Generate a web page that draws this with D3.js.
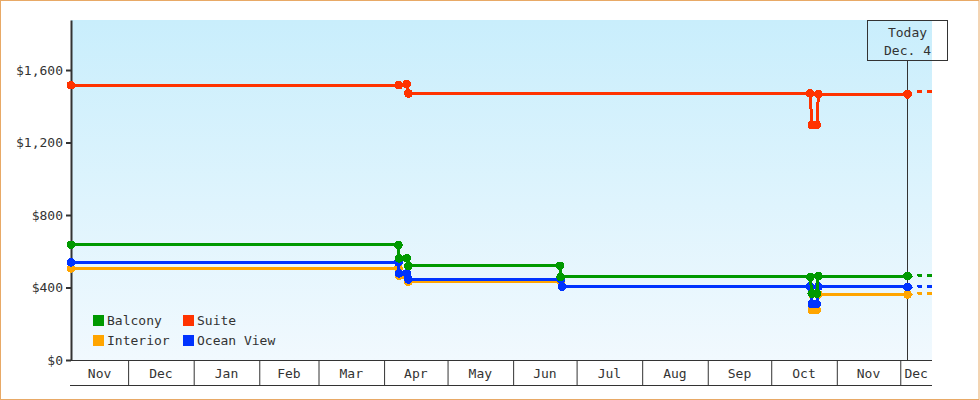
<!DOCTYPE html>
<html>
<head>
<meta charset="utf-8">
<script src="https://cdn.jsdelivr.net/npm/d3@7"></script>
<style>
  html, body { margin: 0; padding: 0; background: #ffffff; }
  svg { display: block; }
  text { font-family: "DejaVu Sans Mono", monospace; font-size: 13px; fill: #333; }
</style>
</head>
<body>
<svg id="chart" width="980" height="400"></svg>
<script>
// ---------- DATA ----------
const seriesNames  = ["Balcony", "Suite", "Interior", "Ocean View"];
const seriesColors = ["#009900", "#ff3300", "#ffa500", "#0033ff"];
const drawOrder    = ["Interior", "Ocean View", "Balcony", "Suite"];

const domainStart = "2022-11-04T00:00";
const domainEnd   = "2023-12-16T00:00";
const todayDate   = "2023-12-04T10:00";
const todayLabel  = ["Today", "Dec. 4"];

const yTickValues = [0, 400, 800, 1200, 1600];
const yMax = 1876;

const balcony = [
  ["2022-11-04T00:00", 635], ["2023-04-07T18:00", 635], ["2023-04-08T02:00", 561],
  ["2023-04-11T17:00", 561], ["2023-04-12T12:00", 519], ["2023-06-23T04:00", 519],
  ["2023-06-23T12:00", 458], ["2023-10-19T10:00", 458], ["2023-10-20T05:00", 367],
  ["2023-10-22T14:00", 367], ["2023-10-23T07:00", 463], ["2023-12-04T10:00", 463]
];
const suite = [
  ["2022-11-04T00:00", 1517], ["2023-04-08T00:00", 1517], ["2023-04-11T17:00", 1522],
  ["2023-04-12T12:00", 1471], ["2023-10-19T10:00", 1471], ["2023-10-20T05:00", 1297],
  ["2023-10-22T14:00", 1297], ["2023-10-23T07:00", 1467], ["2023-12-04T10:00", 1466]
];
const interior = [
  ["2022-11-04T00:00", 506], ["2023-04-07T18:00", 506], ["2023-04-08T02:00", 464],
  ["2023-04-11T17:00", 464], ["2023-04-12T12:00", 432], ["2023-06-23T14:00", 432],
  ["2023-06-24T04:00", 405], ["2023-10-19T10:00", 405], ["2023-10-20T05:00", 276],
  ["2023-10-22T14:00", 276], ["2023-10-23T07:00", 362], ["2023-12-04T10:00", 362]
];
const oceanView = [
  ["2022-11-04T00:00", 539], ["2023-04-07T18:00", 539], ["2023-04-08T02:00", 478],
  ["2023-04-11T17:00", 478], ["2023-04-12T12:00", 445], ["2023-06-23T14:00", 445],
  ["2023-06-24T04:00", 405], ["2023-10-19T10:00", 405], ["2023-10-20T05:00", 309],
  ["2023-10-22T14:00", 309], ["2023-10-23T07:00", 405], ["2023-12-04T10:00", 403]
];

const balconyForecast   = [["2023-12-04T10:00", 463],  ["2023-12-10T00:00", 469],  ["2023-12-16T00:00", 469]];
const suiteForecast     = [["2023-12-04T10:00", 1466], ["2023-12-10T00:00", 1484], ["2023-12-16T00:00", 1484]];
const interiorForecast  = [["2023-12-04T10:00", 362],  ["2023-12-10T00:00", 368],  ["2023-12-16T00:00", 368]];
const oceanViewForecast = [["2023-12-04T10:00", 403],  ["2023-12-10T00:00", 408],  ["2023-12-16T00:00", 408]];

// ---------- BUILD ----------
const parse = d3.timeParse("%Y-%m-%dT%H:%M");
const seriesData = {
  "Balcony": balcony, "Suite": suite, "Interior": interior, "Ocean View": oceanView
};
const forecastData = {
  "Balcony": balconyForecast, "Suite": suiteForecast, "Interior": interiorForecast, "Ocean View": oceanViewForecast
};
const colorOf = d3.scaleOrdinal().domain(seriesNames).range(seriesColors);

const W = 980, H = 400;
const margin = { left: 71, right: 48, top: 20, bottom: 40 };
const plotL = margin.left, plotR = W - margin.right, plotT = margin.top, plotB = H - margin.bottom;

const svg = d3.select("#chart");

const x = d3.scaleTime().domain([parse(domainStart), parse(domainEnd)]).range([plotL, plotR]);
const y = d3.scaleLinear().domain([0, yMax]).range([plotB, plotT]);

// outer border
svg.append("rect").attr("x", 0.5).attr("y", 0.5).attr("width", W - 1.5).attr("height", H - 1)
  .attr("fill", "#fff").attr("stroke", "#e8a966").attr("stroke-width", 1);

// gradient background
const defs = svg.append("defs");
const grad = defs.append("linearGradient").attr("id", "bg").attr("x1", 0).attr("y1", 0).attr("x2", 0).attr("y2", 1);
grad.append("stop").attr("offset", "0%").attr("stop-color", "#c9eefc");
grad.append("stop").attr("offset", "100%").attr("stop-color", "#f1f9fe");
defs.append("clipPath").attr("id", "clip").append("rect")
  .attr("x", plotL - 10).attr("y", plotT - 10).attr("width", plotR - plotL + 10).attr("height", plotB - plotT + 10);

svg.append("rect").attr("x", plotL).attr("y", plotT).attr("width", plotR - plotL).attr("height", plotB - plotT)
  .attr("fill", "url(#bg)");

// x axis (month separators)
const monthStarts = d3.timeMonth.range(d3.timeMonth.ceil(x.domain()[0]), x.domain()[1]);
const xAxis = d3.axisBottom(x).tickValues(monthStarts).tickSize(25).tickSizeOuter(0).tickFormat("");
const gx = svg.append("g").attr("transform", `translate(0,${plotB})`).call(xAxis);
gx.select(".domain").remove();
gx.selectAll(".tick line").attr("stroke", "#333");
svg.append("line").attr("x1", plotL - 1).attr("x2", plotR).attr("y1", plotB + 0.5).attr("y2", plotB + 0.5).attr("stroke", "#333");
svg.append("line").attr("x1", plotL - 1).attr("x2", plotR).attr("y1", plotB + 25.5).attr("y2", plotB + 25.5).attr("stroke", "#333");

// month labels
const allMonths = d3.timeMonth.range(d3.timeMonth.floor(x.domain()[0]), x.domain()[1]);
svg.append("g").selectAll("text").data(allMonths).join("text")
  .attr("x", d => {
    const a = Math.max(x(d), plotL);
    const b = Math.min(x(d3.timeMonth.offset(d, 1)), plotR);
    return (a + b) / 2;
  })
  .attr("y", plotB + 18)
  .attr("text-anchor", "middle")
  .text(d3.timeFormat("%b"));

// y axis
const yAxis = d3.axisLeft(y).tickValues(yTickValues).tickSize(5).tickSizeOuter(0).tickPadding(3)
  .tickFormat(d => "$" + d3.format(",")(d));
const gy = svg.append("g").attr("transform", `translate(${plotL},0)`).call(yAxis);
gy.select(".domain").attr("stroke", "#333").attr("stroke-width", 2);
gy.selectAll(".tick line").attr("stroke", "#333").attr("stroke-width", 2);
gy.selectAll(".tick text").attr("font-family", null).attr("font-size", null).attr("fill", "#333");

// today marker
const tx = Math.round(x(parse(todayDate))) + 0.5;
svg.append("line").attr("x1", tx).attr("x2", tx).attr("y1", plotT + 40).attr("y2", plotB)
  .attr("stroke", "#333").attr("stroke-width", 1);
svg.append("rect").attr("x", tx - 40).attr("y", plotT + 0.5).attr("width", 80).attr("height", 40)
  .attr("fill", "none").attr("stroke", "#333").attr("stroke-width", 1);
svg.append("g").selectAll("text").data(todayLabel).join("text")
  .attr("x", tx).attr("y", (d, i) => plotT + 17 + i * 18)
  .attr("text-anchor", "middle").text(d => d);

// series
const line = d3.line().x(d => x(parse(d[0]))).y(d => y(d[1]));
const gSeries = svg.append("g");
drawOrder.forEach(name => {
  const c = colorOf(name);
  const g = gSeries.append("g");
  g.append("path").datum(forecastData[name]).attr("d", line)
    .attr("clip-path", "url(#clip)")
    .attr("fill", "none").attr("stroke", c).attr("stroke-width", 3)
    .attr("stroke-dasharray", "5,5").attr("shape-rendering", "crispEdges");
  g.append("path").datum(seriesData[name]).attr("d", line)
    .attr("fill", "none").attr("stroke", c).attr("stroke-width", 3)
    .attr("shape-rendering", "crispEdges");
  g.selectAll("circle").data(seriesData[name]).join("circle")
    .attr("cx", d => x(parse(d[0]))).attr("cy", d => y(d[1])).attr("r", 4.4)
    .attr("fill", c).attr("shape-rendering", "crispEdges");
});

// legend
const legendPos = [[93, 315], [183, 315], [93, 335], [183, 335]];
const lg = svg.append("g").selectAll("g").data(seriesNames).join("g")
  .attr("transform", (d, i) => `translate(${legendPos[i][0]},${legendPos[i][1]})`);
lg.append("rect").attr("width", 11).attr("height", 11).attr("fill", d => colorOf(d));
lg.append("text").attr("x", 14).attr("y", 10).text(d => d);
</script>
</body>
</html>
